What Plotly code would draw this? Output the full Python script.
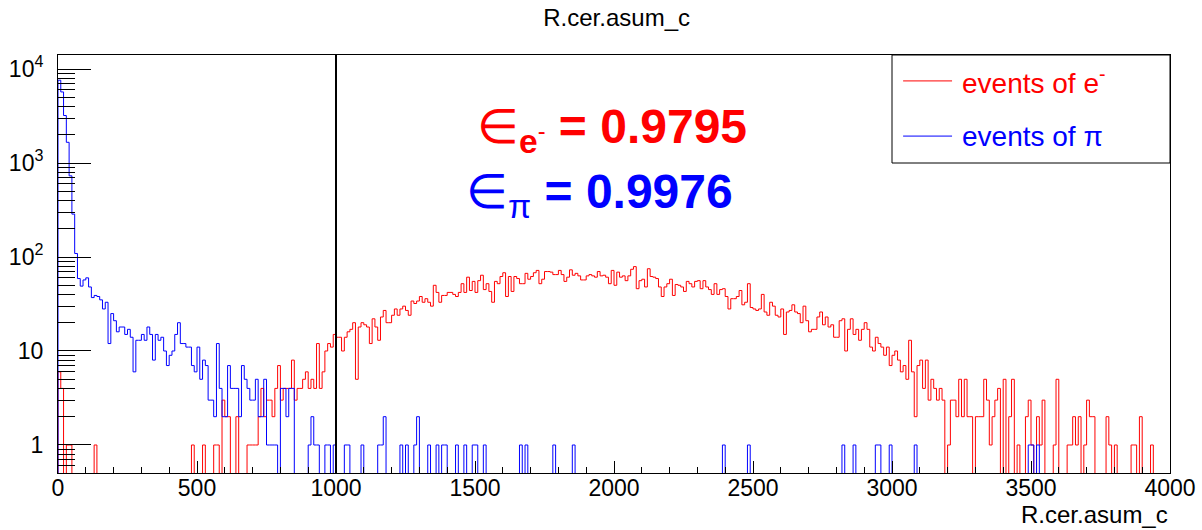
import plotly.graph_objects as go

# ---------------- data ----------------
x_min = 0
bin_width = 10
n_bins = 400
cut_value = 1000

electron_counts = [
    6, 4, 0, 1, 1, 0, 0, 0, 0, 0, 0, 0, 0, 1, 0, 0, 0, 0, 0, 0,
    0, 0, 0, 0, 0, 0, 0, 0, 0, 0, 0, 0, 0, 0, 0, 0, 0, 0, 0, 0,
    0, 0, 0, 0, 0, 0, 0, 0, 1, 0, 0, 0, 1, 0, 0, 0, 1, 1, 0, 3,
    2, 2, 0, 0, 2, 0, 0, 0, 1, 1, 1, 1, 2, 4, 2, 3, 3, 2, 4, 7,
    3, 4, 4, 4, 8, 3, 4, 4, 5, 6, 4, 5, 4, 12, 4, 6, 10, 12, 11, 15,
    14, 14, 10, 14, 16, 17, 20, 5, 18, 20, 19, 18, 12, 22, 18, 13, 23, 27, 20, 20,
    24, 28, 24, 28, 30, 27, 24, 34, 32, 34, 38, 33, 36, 33, 30, 50, 42, 33, 39, 39,
    42, 42, 40, 38, 42, 52, 42, 61, 44, 55, 42, 56, 64, 45, 52, 43, 33, 55, 52, 62,
    68, 38, 62, 43, 62, 59, 52, 52, 67, 58, 62, 68, 72, 52, 58, 70, 70, 69, 65, 65,
    72, 65, 55, 61, 73, 64, 67, 63, 57, 57, 63, 65, 63, 61, 70, 63, 64, 61, 52, 72,
    50, 69, 61, 63, 56, 63, 74, 79, 46, 56, 58, 48, 75, 62, 61, 59, 48, 38, 48, 52,
    58, 39, 51, 50, 48, 43, 55, 52, 48, 55, 56, 46, 56, 48, 45, 40, 52, 40, 45, 46,
    38, 28, 36, 36, 38, 44, 31, 33, 52, 29, 28, 27, 28, 40, 26, 24, 33, 30, 24, 23,
    28, 15, 26, 27, 31, 26, 25, 20, 30, 21, 16, 17, 17, 23, 26, 19, 23, 18, 19, 14,
    14, 21, 22, 10, 17, 22, 15, 17, 13, 17, 20, 17, 11, 10, 14, 12, 11, 9, 11, 7,
    9, 10, 8, 6, 7, 5, 13, 6, 2, 7, 8, 4, 8, 3, 5, 4, 3, 4, 3, 0,
    1, 3, 3, 2, 5, 2, 5, 2, 2, 0, 2, 2, 2, 5, 3, 1, 2, 3, 4, 0,
    5, 0, 2, 5, 0, 1, 0, 0, 2, 3, 1, 0, 2, 1, 3, 0, 0, 0, 1, 5,
    0, 0, 0, 1, 1, 2, 1, 2, 0, 1, 3, 2, 2, 0, 0, 0, 0, 2, 1, 0,
    1, 0, 0, 0, 0, 0, 1, 1, 0, 2, 0, 0, 0, 1, 0, 0, 0, 0, 0, 0,
]

pion_counts = [
    7600, 5700, 3200, 1660, 730, 286, 109, 59, 49, 57, 60, 48, 37, 39, 38, 35, 28, 33, 12, 25,
    21, 16, 18, 18, 15, 17, 14, 6, 13, 13, 15, 13, 18, 15, 8, 15, 13, 14, 10, 7,
    9, 10, 15, 20, 12, 12, 11, 11, 7, 6, 11, 5, 8, 7, 3, 3, 2, 12, 4, 2,
    2, 7, 4, 4, 4, 2, 7, 5, 4, 3, 3, 5, 2, 2, 5, 1, 1, 1, 1, 0,
    4, 4, 2, 4, 4, 0, 0, 0, 0, 0, 1, 2, 1, 1, 0, 0, 1, 1, 0, 1,
    0, 0, 0, 1, 1, 0, 0, 0, 0, 1, 0, 0, 0, 0, 0, 1, 1, 2, 0, 0,
    0, 0, 0, 1, 0, 1, 0, 0, 1, 2, 0, 0, 0, 1, 0, 0, 1, 0, 1, 1,
    0, 0, 0, 1, 0, 0, 1, 0, 0, 1, 1, 0, 0, 1, 0, 0, 0, 0, 0, 0,
    0, 0, 0, 0, 0, 0, 1, 0, 1, 0, 0, 0, 0, 0, 0, 0, 0, 0, 1, 0,
    0, 0, 0, 0, 0, 1, 0, 0, 0, 0, 0, 0, 0, 0, 0, 0, 0, 0, 0, 0,
    0, 0, 0, 0, 0, 0, 0, 0, 0, 0, 0, 0, 0, 0, 0, 0, 0, 0, 0, 0,
    0, 0, 0, 0, 0, 0, 0, 0, 0, 0, 0, 0, 0, 0, 0, 0, 0, 0, 0, 1,
    0, 0, 0, 0, 0, 0, 0, 0, 1, 0, 0, 0, 0, 0, 0, 0, 0, 0, 0, 0,
    0, 0, 0, 0, 0, 0, 0, 0, 0, 0, 0, 0, 0, 0, 0, 0, 0, 0, 0, 0,
    0, 0, 1, 0, 0, 0, 1, 0, 0, 0, 0, 0, 0, 0, 1, 1, 0, 0, 0, 1,
    0, 0, 0, 0, 0, 0, 0, 0, 1, 0, 0, 0, 0, 0, 0, 0, 0, 0, 0, 0,
    0, 0, 0, 0, 0, 0, 0, 0, 0, 0, 0, 0, 0, 0, 0, 0, 0, 0, 0, 0,
    0, 0, 0, 0, 0, 0, 0, 0, 0, 1, 1, 0, 1, 0, 0, 0, 0, 0, 0, 0,
    0, 0, 0, 0, 0, 0, 0, 0, 0, 0, 0, 0, 0, 0, 0, 0, 0, 0, 0, 0,
    0, 0, 0, 0, 0, 0, 0, 0, 0, 0, 0, 0, 0, 0, 0, 0, 0, 0, 0, 0,
]

x_tick_values = [0, 500, 1000, 1500, 2000, 2500, 3000, 3500, 4000]
x_tick_labels = ["0", "500", "1000", "1500", "2000", "2500", "3000", "3500", "4000"]
y_tick_values = [1, 10, 100, 1000, 10000]
y_tick_labels = ["1", "10", "10<sup>2</sup>", "10<sup>3</sup>", "10<sup>4</sup>"]

eff_electron = "0.9795"
eff_pion = "0.9976"
title_text = "R.cer.asum_c"
legend_electron = "events of e<sup>-</sup>"
legend_pion = "events of π"

# ---------------- helpers ----------------
FLOOR = 0.05  # empty bins drawn down below the frame (clipped), like ROOT

def step_xy(counts):
    edges = [x_min + i * bin_width for i in range(n_bins + 1)]
    xs = [edges[0]]
    ys = [FLOOR]
    for i, c in enumerate(counts):
        v = c if c > 0 else FLOOR
        xs.append(edges[i]); ys.append(v)
    xs.append(edges[-1]); ys.append(counts[-1] if counts[-1] > 0 else FLOOR)
    xs.append(edges[-1]); ys.append(FLOOR)
    return xs, ys

FONT = "Liberation Sans, Arial, Helvetica, sans-serif"

fig = go.Figure()
xe, ye = step_xy(electron_counts)
xp, yp = step_xy(pion_counts)
fig.add_trace(go.Scatter(x=xe, y=ye, mode="lines", line=dict(color="#ff0000", width=1, shape="hv"),
                         name="events of e-", showlegend=False, hoverinfo="skip"))
fig.add_trace(go.Scatter(x=xp, y=yp, mode="lines", line=dict(color="#0000ff", width=1, shape="hv"),
                         name="events of pi", showlegend=False, hoverinfo="skip"))

# cut line
fig.add_shape(type="line", xref="x", yref="paper", x0=cut_value, x1=cut_value, y0=0, y1=1,
              line=dict(color="black", width=2))

y_minor = []
for dec in [0.1, 1, 10, 100, 1000]:
    for k in range(2, 10):
        y_minor.append(dec * k)

fig.update_layout(
    width=1202, height=530,
    margin=dict(l=58, r=32, t=55, b=57, autoexpand=False),
    paper_bgcolor="white", plot_bgcolor="white",
    showlegend=False,
    title=dict(text=title_text, x=0.513, xanchor="center", y=0.967, yanchor="middle",
               font=dict(family=FONT, size=24, color="black")),
)

fig.update_xaxes(
    type="linear", range=[0, 4000], automargin=False,
    showline=True, linecolor="black", linewidth=1, mirror=True,
    showgrid=False, zeroline=False,
    ticks="inside", ticklen=12, tickcolor="black", tickwidth=1,
    tickvals=x_tick_values, ticktext=x_tick_labels,
    tickfont=dict(family=FONT, size=23, color="black"),
    ticklabelstandoff=-6,
    minor=dict(ticks="inside", ticklen=6, tickcolor="black", dtick=100, tick0=0, showgrid=False),
)
fig.update_yaxes(
    type="log", range=[-0.298, 4.149], automargin=False,
    showline=True, linecolor="black", linewidth=1, mirror=True,
    showgrid=False, zeroline=False,
    ticks="inside", ticklen=33, tickcolor="black", tickwidth=1,
    tickvals=y_tick_values, ticktext=y_tick_labels,
    tickfont=dict(family=FONT, size=23, color="black"),
    ticklabelstandoff=9,
    minor=dict(ticks="inside", ticklen=17, tickcolor="black", tickmode="array",
               tickvals=y_minor, showgrid=False),
)

# x axis title aligned to the right end, like ROOT
fig.add_annotation(text=title_text, xref="paper", yref="paper", x=1.0, y=-0.062,
                   xanchor="right", yanchor="top", showarrow=False,
                   font=dict(family=FONT, size=24, color="black"))

# manual ROOT-style legend box
lx0 = (892 - 58) / 1112
fig.add_shape(type="rect", xref="paper", yref="paper", x0=lx0, x1=1.0, y0=0.7416, y1=1.0,
              line=dict(color="black", width=1), fillcolor="white", layer="above")
for ypos, col, txt in [(0.938, "#ff0000", legend_electron), (0.806, "#0000ff", legend_pion)]:
    fig.add_shape(type="line", xref="paper", yref="paper", x0=0.760, x1=0.804, y0=ypos, y1=ypos,
                  line=dict(color=col, width=1), layer="above")
    fig.add_annotation(text=txt, xref="paper", yref="paper", x=0.811, y=ypos,
                       xanchor="left", yanchor="middle", showarrow=False,
                       font=dict(family=FONT, size=28, color=col))

# efficiency labels
fig.add_annotation(text="∈<sub><b>e</b><sup>-</sup></sub> <b>= " + eff_electron + "</b>",
                   xref="paper", yref="paper", x=0.498, y=0.82, xanchor="center", yanchor="middle",
                   showarrow=False, font=dict(family=FONT, size=48, color="#ff0000"))
fig.add_annotation(text="∈<sub>π</sub> <b>= " + eff_pion + "</b>",
                   xref="paper", yref="paper", x=0.487, y=0.664, xanchor="center", yanchor="middle",
                   showarrow=False, font=dict(family=FONT, size=48, color="#0000ff"))

# remove the page's default body margin so the figure sits at the window's corner
fig.write_html("out.html", config={"displayModeBar": False},
               post_script="document.body.style.margin='0';")
